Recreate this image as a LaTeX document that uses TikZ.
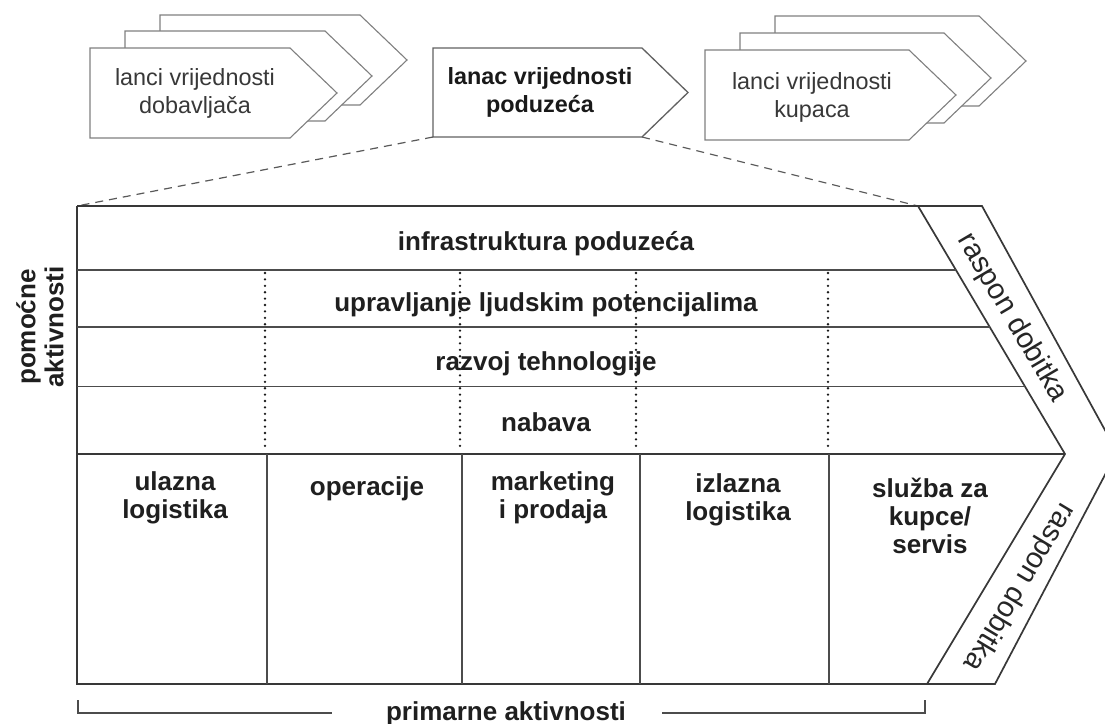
\documentclass[tikz,border=0pt]{standalone}
\usepackage{fontspec}
\setmainfont{Liberation Sans}
\begin{document}
\begin{tikzpicture}[x=0.5pt,y=-0.5pt,
  chainbox/.style={draw=black!50, line width=0.55pt, fill=white},
  mainbox/.style={draw=black!62, line width=0.65pt, fill=white},
  frameline/.style={draw=black!78, line width=0.85pt},
  cellline/.style={draw=black!70, line width=0.6pt},
  dotline/.style={draw=black!90, line width=1.3pt, line cap=round, dash pattern=on 0pt off 3.2pt},
  dashline/.style={draw=black!65, line width=0.6pt, dash pattern=on 4pt off 3pt},
  lbl/.style={font=\fontsize{13}{14}\selectfont\bfseries, text=black!88, align=center, inner sep=0pt, anchor=base},
  clbl/.style={font=\fontsize{11.7}{14}\selectfont, text=black!78, align=center, inner sep=0pt, anchor=base},
  cblbl/.style={font=\fontsize{11.7}{14}\selectfont\bfseries, text=black!90, align=center, inner sep=0pt, anchor=base},
  rlbl/.style={font=\fontsize{14.5}{16}\selectfont, text=black!85, inner sep=0pt},
]
\useasboundingbox (0,0) rectangle (1105,724);
\fill[white] (0,0) rectangle (1105,724);
\clip (0,0) rectangle (1105,724);

% supplier chains
\draw[chainbox] (160,15) -- (360,15) -- (407,60) -- (360,105) -- (160,105) -- cycle;
\draw[chainbox] (125,31) -- (325,31) -- (372,76) -- (325,121) -- (125,121) -- cycle;
\draw[chainbox] (90,48) -- (290,48) -- (337,93) -- (290,138) -- (90,138) -- cycle;
\node[clbl] (sup) at (195,113) {lanci vrijednosti\\dobavljača};

% customer chains
\draw[chainbox] (775,16) -- (979,16) -- (1026,61) -- (979,106) -- (775,106) -- cycle;
\draw[chainbox] (740,33) -- (944,33) -- (991,78) -- (944,123) -- (740,123) -- cycle;
\draw[chainbox] (705,50) -- (909,50) -- (956,95) -- (909,140) -- (705,140) -- cycle;
\node[clbl] (cus) at (812,117) {lanci vrijednosti\\kupaca};

% company chain
\draw[mainbox] (433,48) -- (642,48) -- (688,92.5) -- (642,137) -- (433,137) -- cycle;
\node[cblbl] (com) at (540,112) {lanac vrijednosti\\poduzeća};

\coordinate (cBL) at (433,137);
\coordinate (cBR) at (642,137);
\coordinate (fTL) at (77,206);
\coordinate (fTR) at (918,206);
\draw[dashline] (cBL) -- (fTL);
\draw[dashline] (cBR) -- (fTR);

% frame
\draw[frameline] (fTL) -- (fTR);
\draw[frameline] (fTL) -- (77,684) -- (927,684);
\draw[frameline] (fTR) -- (1065,454) -- (927,684);
\draw[frameline] (fTR) -- (982,206) -- (1117,452) -- (995,684) -- (927,684);
\draw[cellline] (77,270) -- (955.9,270);
\draw[cellline] (77,327) -- (989.7,327);
\draw[cellline] (77,386.5) -- (1025,386.5);
\draw[frameline] (77,454) -- (1065,454);
\foreach \xx in {267,462,640,829} \draw[cellline] (\xx,454) -- (\xx,684);

% support activities
\node[lbl] (infra) at (546,250) {infrastruktura poduzeća};
\node[lbl] (hrm) at (546,311) {upravljanje ljudskim potencijalima};
\node[lbl] (tech) at (546,370) {razvoj tehnologije};
\node[lbl] (proc) at (546,431) {nabava};
\foreach \xx in {265,460,636,828} \draw[dotline] (\xx,273) -- (\xx,451);

% primary activities
\node[lbl] (inl) at (175,518) {ulazna\\logistika};
\node[lbl] (ops) at (367,495) {operacije};
\node[lbl] (mkt) at (553,518) {marketing\\i prodaja};
\node[lbl] (outl) at (738,520) {izlazna\\logistika};
\node[lbl] (serv) at (930,553) {služba za\\kupce/\\servis};

% margin
\node[rlbl, rotate=-59.5] (rd1) at (1012,318) {raspon dobitka};
\node[rlbl, rotate=-121] (rd2) at (1019,587) {raspon dobitka};

% side labels
\node[lbl, anchor=center, rotate=90] (pom) at (40,327) {pomoćne\\aktivnosti};
\draw[cellline] (78,700) -- (78,713) -- (332,713);
\draw[cellline] (662,713) -- (925,713) -- (925,700);
\node[lbl] (prim) at (506,720) {primarne aktivnosti};
\end{tikzpicture}
\end{document}
